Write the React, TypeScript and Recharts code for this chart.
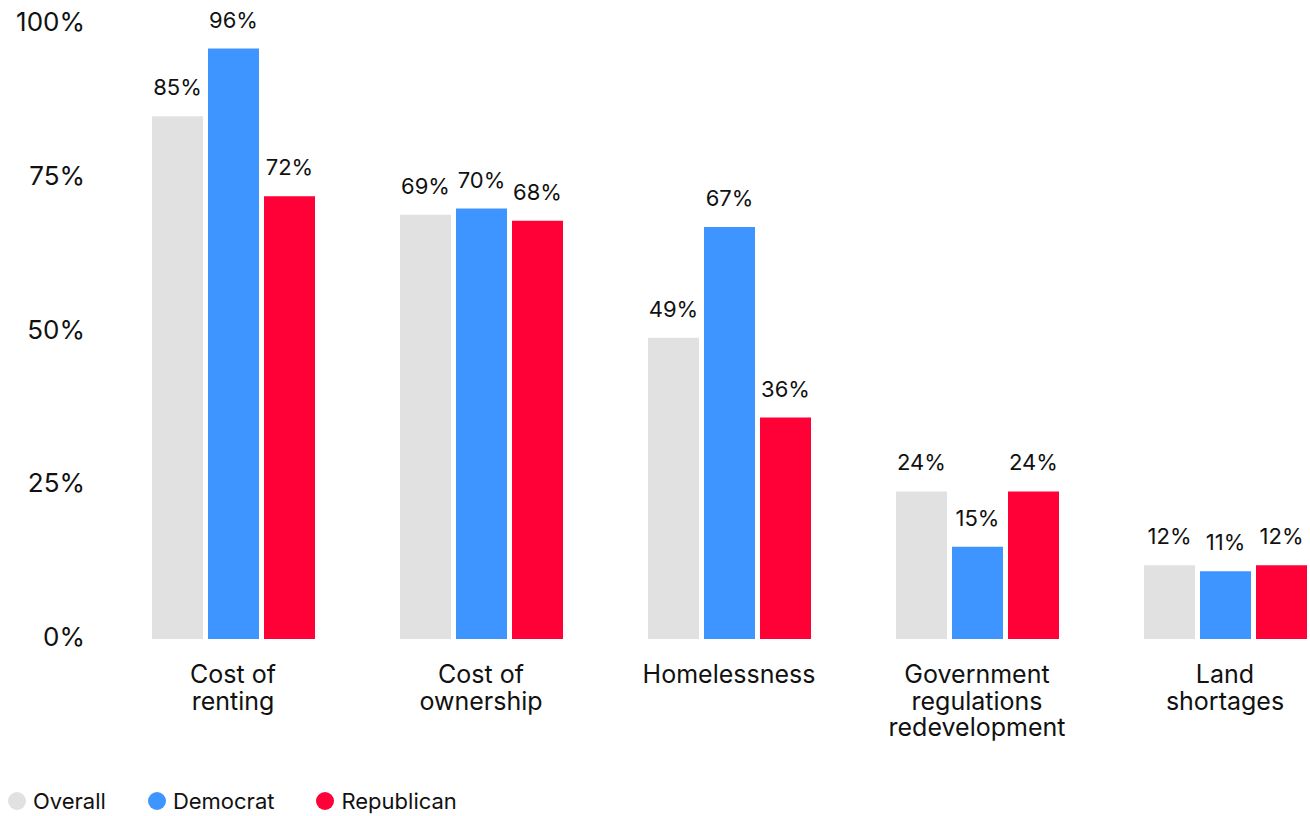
import React from "react";
import { BarChart, Bar, XAxis, YAxis, Legend, LabelList } from "recharts";

// Category labels, already broken into lines as in the original
const categories = [
  ["Cost of", "renting"],
  ["Cost of", "ownership"],
  ["Homelessness"],
  ["Government", "regulations", "redevelopment"],
  ["Land", "shortages"],
];

const overall = [85, 69, 49, 24, 12];
const democrat = [96, 70, 67, 15, 11];
const republican = [72, 68, 36, 24, 12];

const yTicks = [0, 25, 50, 75, 100];

const series = [
  { key: "overall", name: "Overall", color: "#e1e1e1" },
  { key: "democrat", name: "Democrat", color: "#3e95ff" },
  { key: "republican", name: "Republican", color: "#ff0037" },
];

const data = categories.map((lines, i) => ({
  name: lines.join(" "),
  overall: overall[i],
  democrat: democrat[i],
  republican: republican[i],
}));

const FONT = "Inter, 'Noto Sans', sans-serif";
const TEXT = "#111111";

const CategoryTick = (props: any) => {
  const { x, y, payload } = props;
  const lines = categories[payload.index] || [payload.value];
  return (
    <text x={x} y={y} textAnchor="middle" fill={TEXT} fontSize={25} fontFamily={FONT}>
      {lines.map((line: string, i: number) => (
        <tspan key={i} x={x} y={y + 36 + i * 26.5}>
          {line}
        </tspan>
      ))}
    </text>
  );
};

const LegendContent = () => (
  <div style={{ display: "flex", alignItems: "center", height: 30, fontFamily: FONT, fontSize: 22, color: TEXT }}>
    {series.map((s) => (
      <div key={s.key} style={{ display: "flex", alignItems: "center", marginRight: 42 }}>
        <span
          style={{
            width: 18,
            height: 18,
            borderRadius: "50%",
            background: s.color,
            display: "inline-block",
            marginRight: 7,
          }}
        />
        <span>{s.name}</span>
      </div>
    ))}
  </div>
);

export default function App() {
  return (
    <div
      style={{
        position: "absolute",
        left: 0,
        top: 0,
        width: 1310,
        height: 816,
        overflow: "hidden",
        background: "#fff",
      }}
    >
      <BarChart
        width={1360}
        height={816}
        data={data}
        margin={{ top: 24, right: 11, left: 0, bottom: 0 }}
        barSize={51}
        barGap={5}
        style={{ fontFamily: FONT }}
      >
        <XAxis
          dataKey="name"
          axisLine={false}
          tickLine={false}
          height={147}
          interval={0}
          tick={<CategoryTick />}
        />
        <YAxis
          domain={[0, 100]}
          ticks={yTicks}
          axisLine={false}
          tickLine={false}
          tickSize={0}
          tickMargin={24}
          width={109}
          tickFormatter={(v) => `${v}%`}
          tick={{ fill: TEXT, fontSize: 26, fontFamily: FONT, dy: -2 }}
        />
        <Legend
          verticalAlign="bottom"
          align="left"
          content={<LegendContent />}
          wrapperStyle={{ left: 8, bottom: 0, width: 600, height: 30 }}
        />
        {series.map((s) => (
          <Bar key={s.key} dataKey={s.key} name={s.name} fill={s.color} isAnimationActive={false}>
            <LabelList
              dataKey={s.key}
              position="top"
              offset={21}
              formatter={(v: any) => `${v}%`}
              style={{ fill: TEXT, fontSize: 22, fontFamily: FONT }}
            />
          </Bar>
        ))}
      </BarChart>
    </div>
  );
}
